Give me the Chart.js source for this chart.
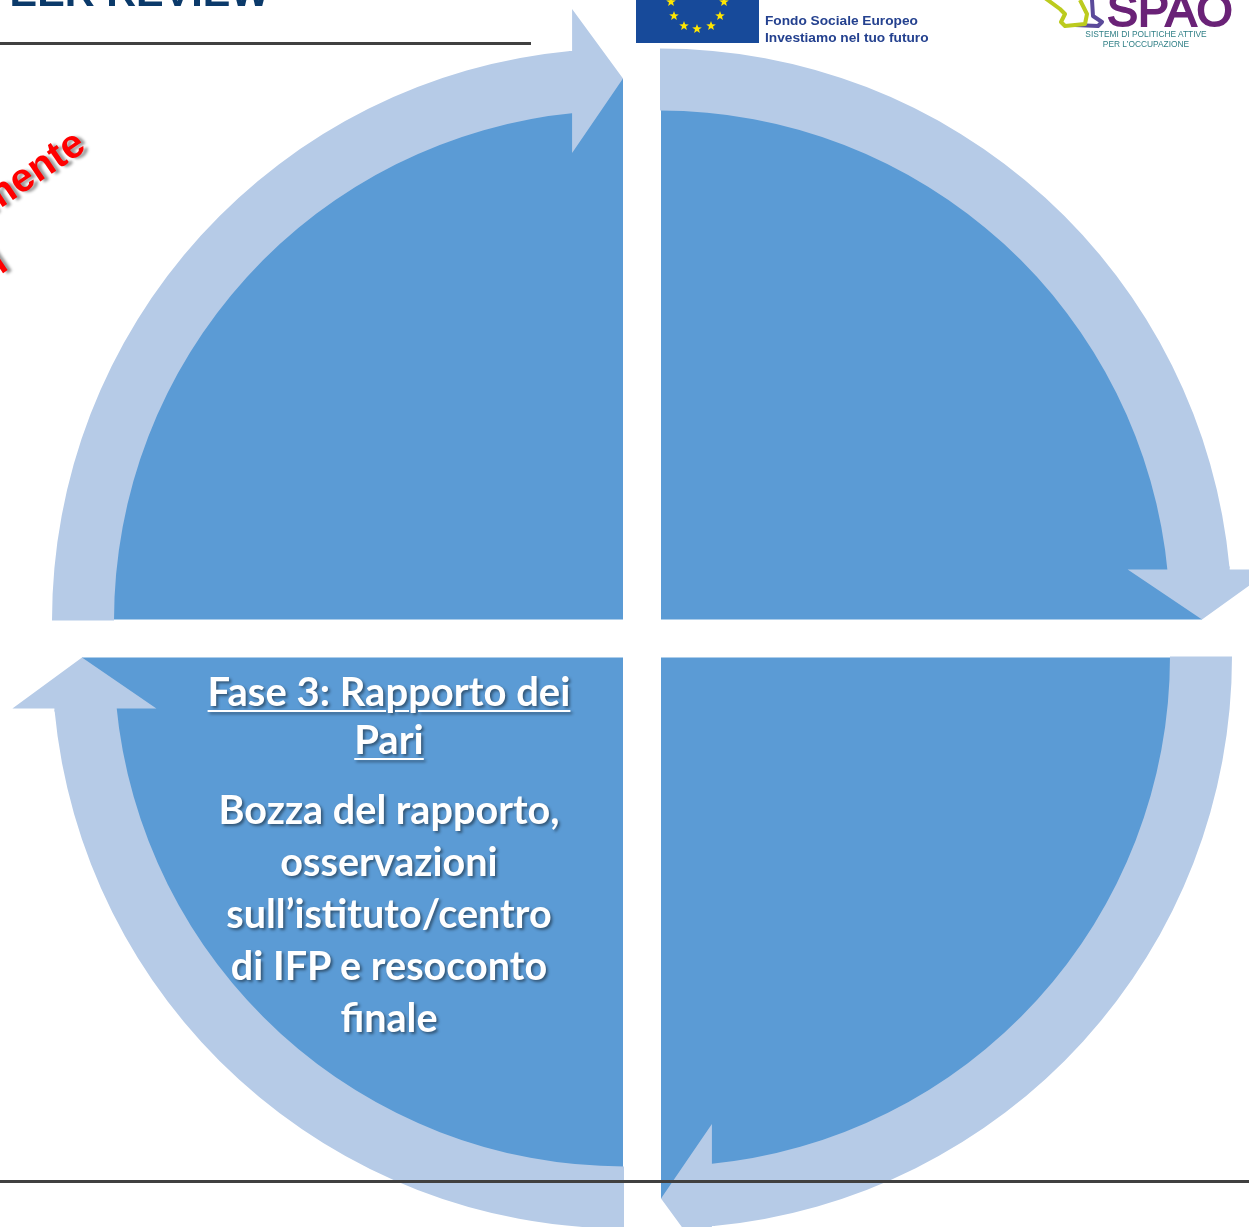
<!DOCTYPE html>
<html>
<head>
<meta charset="utf-8">
<title>Peer review</title>
<script src="https://cdn.jsdelivr.net/npm/chart.js@4"></script>
<style>
    html, body { margin: 0; padding: 0; background: #fff; }
    #page { position: relative; width: 1249px; height: 1227px; overflow: hidden; }
    #diagram { position: absolute; left: 0; top: 0; }
    .abs { position: absolute; white-space: nowrap; }
    .rule { position: absolute; left: 0; height: 3px; background: #404040; }
    .phase { left: 179px; width: 420px; text-align: center; color: #fff; font-family: Lato, sans-serif; font-weight: 700; text-shadow: 2px 2px 3px rgba(0, 0, 0, 0.45); }
    .red { color: #f00; font: bold 40px "Liberation Sans", sans-serif; text-shadow: 3px 3px 3px rgba(0, 0, 0, 0.4); transform: rotate(-34deg); transform-origin: right bottom; }
    .fse { left: 765px; color: #24418f; font: bold 13.7px "Liberation Sans", sans-serif; }
    .spao { width: 200px; left: 1046px; text-align: center; color: #2f7f86; font: 8.4px "Liberation Sans", sans-serif; }
</style>
</head>
<body>
<div id="page">
    <canvas id="diagram" width="1249" height="1227"></canvas>

    <div class="abs" style="left:-18px;top:-31px;color:#0b3a6a;font:bold 41.4px 'Liberation Sans',sans-serif;">PEER REVIEW</div>
    <div class="rule" style="top:42px;width:531px;"></div>
    <div class="rule" style="top:1180px;width:1249px;"></div>

    <div class="abs red" style="right:1156px;top:112px;">mente</div>
    <div class="abs red" style="right:1234px;top:231px;">l</div>

    <svg class="abs" style="left:636px;top:0;" width="124" height="44">
        <rect width="123" height="43" fill="#174a9a"></rect>
        <g fill="#ffe600" id="stars"></g>
    </svg>
    <div class="abs fse" style="top:13px;">Fondo Sociale Europeo</div>
    <div class="abs fse" style="top:30px;">Investiamo nel tuo futuro</div>

    <svg class="abs" style="left:1040px;top:0;" width="70" height="30" fill="none" stroke-width="4" stroke-linejoin="round">
        <path d="M52 0 L53 16 L62 22 L58 26 L35 25" stroke="#5b4a9a"></path>
        <path d="M5 -2 L20 9 L25 14 L21 22 L25 26 L45 24 L47 14 L40 0" stroke="#bccb1e"></path>
    </svg>
    <div class="abs" style="left:1107px;top:-17px;color:#6a2277;font:46.5px 'Liberation Sans',sans-serif;-webkit-text-stroke:2px #6a2277;">SPAO</div>
    <div class="abs spao" style="top:29px;">SISTEMI DI POLITICHE ATTIVE</div>
    <div class="abs spao" style="top:39px;">PER L’OCCUPAZIONE</div>

    <div class="abs phase" id="phaseTitle" style="top:667px;font-size:40px;line-height:48px;text-decoration:underline;text-decoration-thickness:2px;text-underline-offset:4px;"></div>
    <div class="abs phase" id="phaseBody" style="top:783px;font-size:39.6px;line-height:52px;"></div>
</div>

<script>
// values
const quadrantShare = [25, 25, 25, 25];         // top right, bottom right, bottom left, top left
const bandSweep = [84.7, 84.6, 84.6, 84.6];     // degrees of curved band in each quadrant
const headSweep = [5.3, 5.4, 5.4, 5.4];         // degrees left for the arrow head
const titleLines = ["Fase 3: Rapporto dei", "Pari"];
const bodyLines = ["Bozza del rapporto,", "osservazioni", "sull’istituto/centro", "di IFP e resoconto", "finale"];
const starX = [671, 724, 674, 720, 684, 697, 711];
const starY = [2, 2, 16, 16, 26, 29, 26];

const BLUE = "#5b9bd5";
const LIGHT = "#b6cbe7";
const RING_WIDTH = 62;
const INNER_RADIUS = 510;
const OUTER_RADIUS = INNER_RADIUS + RING_WIDTH;
const TIP_RADIUS = 541;
const HALF_GAP = 19;        // blue slices
const RING_HALF_GAP = 18;   // the band sits a pixel closer to the middle
const HEAD_HALF_WIDTH = 72;
const NECK_HALF_WIDTH = 30; // closes the seam between band end and head
const NECK_DEPTH = 3;

document.getElementById("phaseTitle").innerHTML = titleLines.join("<br>");
document.getElementById("phaseBody").innerHTML = bodyLines.join("<br>");

// small stars of the flag
const starGroup = document.getElementById("stars");
starX.forEach((x, i) => {
    const points = [];
    for (let k = 0; k < 10; k++) {
        const r = k % 2 ? 2.1 : 5;
        const a = -Math.PI / 2 + k * Math.PI / 5;
        points.push((x - 636 + r * Math.cos(a)).toFixed(1) + "," + (starY[i] + r * Math.sin(a)).toFixed(1));
    }
    const star = document.createElementNS("http://www.w3.org/2000/svg", "polygon");
    star.setAttribute("points", points.join(" "));
    starGroup.appendChild(star);
});

// band, head, band, head ... around the circle
const ringData = [];
const ringColors = [];
bandSweep.forEach((sweep, i) => {
    ringData.push(sweep, headSweep[i]);
    ringColors.push(LIGHT, "rgba(0,0,0,0)");
});

const quadrantPlugin = {
    id: "quadrants",
    // moves every slice out along both axes, so the gaps stay straight
    afterDatasetsUpdate(chart) {
        chart.data.datasets.forEach((ds, d) => {
            const gap = d === 0 ? RING_HALF_GAP : HALF_GAP;
            chart.getDatasetMeta(d).data.forEach(arc => {
                const mid = (arc.startAngle + arc.endAngle) / 2;
                arc.x += Math.sign(Math.cos(mid)) * gap;
                arc.y += Math.sign(Math.sin(mid)) * gap;
                if (d === 1) arc.outerRadius = TIP_RADIUS;
            });
        });
    },
    // arrow heads sit in the transparent slices of the ring
    afterDatasetsDraw(chart) {
        const ctx = chart.ctx;
        const n = NECK_HALF_WIDTH, depth = NECK_DEPTH;
        ctx.save();
        ctx.fillStyle = LIGHT;
        chart.getDatasetMeta(0).data.forEach((arc, i) => {
            if (i % 2 === 0) return;
            const mid = (arc.innerRadius + arc.outerRadius) / 2;
            const angle = (arc.startAngle + arc.endAngle) / 2;
            const cx = arc.x + Math.sign(Math.cos(angle)) * (HALF_GAP - RING_HALF_GAP);
            const cy = arc.y + Math.sign(Math.sin(angle)) * (HALF_GAP - RING_HALF_GAP);
            const rx = Math.cos(arc.endAngle), ry = Math.sin(arc.endAngle);
            const baseX = cx + mid * Math.cos(arc.startAngle);
            const baseY = cy + mid * Math.sin(arc.startAngle);
            ctx.beginPath();
            ctx.moveTo(cx + mid * rx, cy + mid * ry);
            ctx.lineTo(baseX + HEAD_HALF_WIDTH * rx, baseY + HEAD_HALF_WIDTH * ry);
            ctx.lineTo(baseX + n * rx, baseY + n * ry);
            ctx.lineTo(baseX + n * rx + depth * ry, baseY + n * ry - depth * rx);
            ctx.lineTo(baseX - n * rx + depth * ry, baseY - n * ry - depth * rx);
            ctx.lineTo(baseX - n * rx, baseY - n * ry);
            ctx.lineTo(baseX - HEAD_HALF_WIDTH * rx, baseY - HEAD_HALF_WIDTH * ry);
            ctx.closePath();
            ctx.fill();
        });
        ctx.restore();
    }
};

new Chart(document.getElementById("diagram").getContext("2d"), {
    type: "pie",
    data: {
        datasets: [
            { data: ringData, backgroundColor: ringColors, borderWidth: 0, weight: RING_WIDTH, clip: false },
            { data: quadrantShare, backgroundColor: BLUE, borderWidth: 0, weight: INNER_RADIUS, clip: false }
        ]
    },
    options: {
        responsive: false,
        animation: false,
        events: [],
        radius: OUTER_RADIUS,
        layout: { padding: { left: 35, top: 50 } },
        plugins: { legend: { display: false }, tooltip: { enabled: false } }
    },
    plugins: [quadrantPlugin]
});
</script>
</body>
</html>
